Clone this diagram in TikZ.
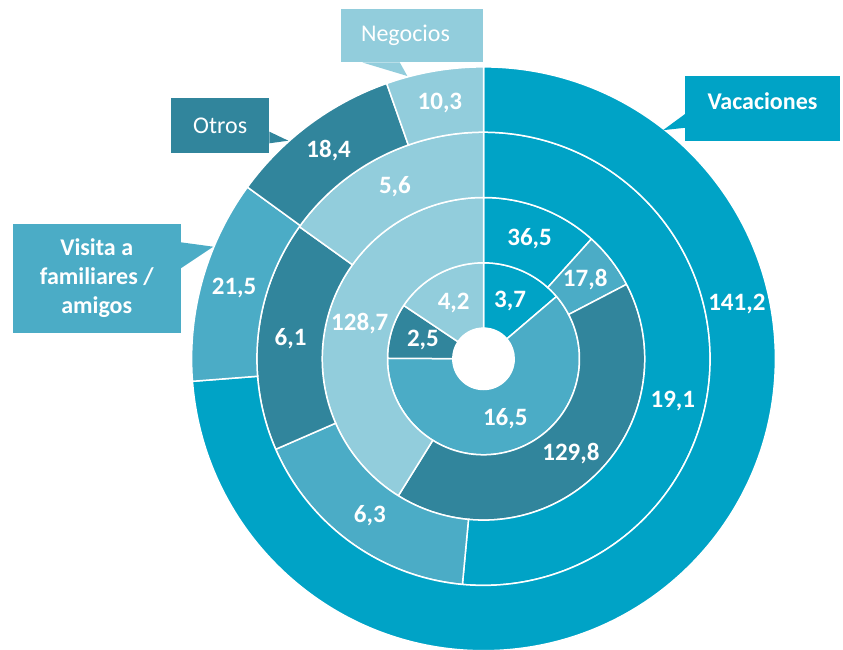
\documentclass[tikz,border=0pt]{standalone}
\usepackage{fontspec}
\setmainfont{Carlito}
\usepackage{xcolor}
\usepackage{tikz}

\definecolor{vaccol}{HTML}{00A3C6}
\definecolor{viscol}{HTML}{4BACC6}
\definecolor{otrcol}{HTML}{31859C}
\definecolor{negcol}{HTML}{92CDDC}

\tikzset{
  val/.style={text=white, inner sep=0pt, font=\fontsize{25}{29}\selectfont\bfseries},
  callbox/.style={fill=#1, text=white, align=center, inner sep=0pt, font=\fontsize{24}{29}\selectfont},
}

\newcommand{\holer}{30.7}
\newcommand{\ringw}{65.3}
% one piece of a ring: [label turn]{ring}{start}{value}{total}{colour}{name}{text}
\newcommand{\ringpart}[8][0]{%
  \pgfmathsetmacro{\segin}{\holer+(#2-1)*\ringw}
  \pgfmathsetmacro{\segout}{\segin+\ringw}
  \pgfmathsetmacro{\segmid}{(\segin+\segout)/2}
  \pgfmathsetmacro{\aone}{90-#3/#5*360}
  \pgfmathsetmacro{\atwo}{90-(#3+#4)/#5*360}
  \pgfmathsetmacro{\amid}{(\aone+\atwo)/2+#1}
  \fill[#6, draw=white, line width=1.5pt] (\aone:\segout) arc[start angle=\aone, end angle=\atwo, radius=\segout]
    -- (\atwo:\segin) arc[start angle=\atwo, end angle=\aone, radius=\segin] -- cycle;
  \node[val] (#7) at (\amid:\segmid) {#8};
}

\begin{document}
\begin{tikzpicture}[x=1pt, y=1pt]
  \useasboundingbox (0,0) rectangle (843,649);

  % Rings, inside out
  \begin{scope}[shift={(483.5,290.2)}]
    \ringpart{1}{0}{3.7}{26.9}{vaccol}{vac1}{3,7}
    \ringpart{1}{3.7}{16.5}{26.9}{viscol}{vis1}{16,5}
    \ringpart{1}{20.2}{2.5}{26.9}{otrcol}{otr1}{2,5}
    \ringpart{1}{22.7}{4.2}{26.9}{negcol}{neg1}{4,2}

    \ringpart{2}{0}{36.5}{312.8}{vaccol}{vac2}{36,5}
    \ringpart{2}{36.5}{17.8}{312.8}{viscol}{vis2}{17,8}
    \ringpart{2}{54.3}{129.8}{312.8}{otrcol}{otr2}{129,8}
    \ringpart{2}{184.1}{128.7}{312.8}{negcol}{neg2}{128,7}

    \ringpart[-9.8]{3}{0}{19.1}{37.1}{vaccol}{vac3}{19,1}
    \ringpart{3}{19.1}{6.3}{37.1}{viscol}{vis3}{6,3}
    \ringpart{3}{25.4}{6.1}{37.1}{otrcol}{otr3}{6,1}
    \ringpart{3}{31.5}{5.6}{37.1}{negcol}{neg3}{5,6}

    \ringpart[55]{4}{0}{141.2}{191.4}{vaccol}{vac4}{141,2}
    \ringpart{4}{141.2}{21.5}{191.4}{viscol}{vis4}{21,5}
    \ringpart{4}{162.7}{18.4}{191.4}{otrcol}{otr4}{18,4}
    \ringpart{4}{181.1}{10.3}{191.4}{negcol}{neg4}{10,3}
  \end{scope}

  % Callouts
  \node[callbox=vaccol, minimum width=155pt, minimum height=64.4pt, text height=16pt, text depth=13pt,
    font=\fontsize{24}{29}\selectfont\bfseries] (vac) at (762.5,540.5) {Vacaciones};
  \node[callbox=viscol, minimum width=168pt, minimum height=108.7pt, font=\fontsize{24}{29}\selectfont\bfseries] (vis) at (96.7,370.65) {Visita a\\familiares /\\amigos};
  \node[callbox=otrcol, minimum width=98pt, minimum height=54.4pt] (otr) at (220.2,523.5) {Otros};
  \node[callbox=negcol, minimum height=53.3pt, inner xsep=20pt, text width=101.7pt, align=left] (neg) at (411.85,613.35) {Negocios};

  \coordinate (vactip) at (663,518.8);
  \coordinate (vistip) at (213.3,402.3);
  \coordinate (otrtip) at (288.3,508.3);
  \coordinate (negtip) at (407.3,573);

  \fill[vaccol] ([yshift=-5.7pt]vac.west) -- (vactip) -- ([yshift=-19.3pt]vac.west) -- cycle;
  \fill[viscol] ([yshift=36.05pt]vis.east) -- (vistip) -- ([yshift=10.05pt]vis.east) -- cycle;
  \fill[otrcol] ([yshift=-6.2pt]otr.east) -- (otrtip) -- ([yshift=-17.8pt]otr.east) -- cycle;
  \fill[negcol] ([xshift=21.7pt]neg.south west) -- (negtip) -- ([xshift=59pt]neg.south west) -- cycle;
\end{tikzpicture}
\end{document}
